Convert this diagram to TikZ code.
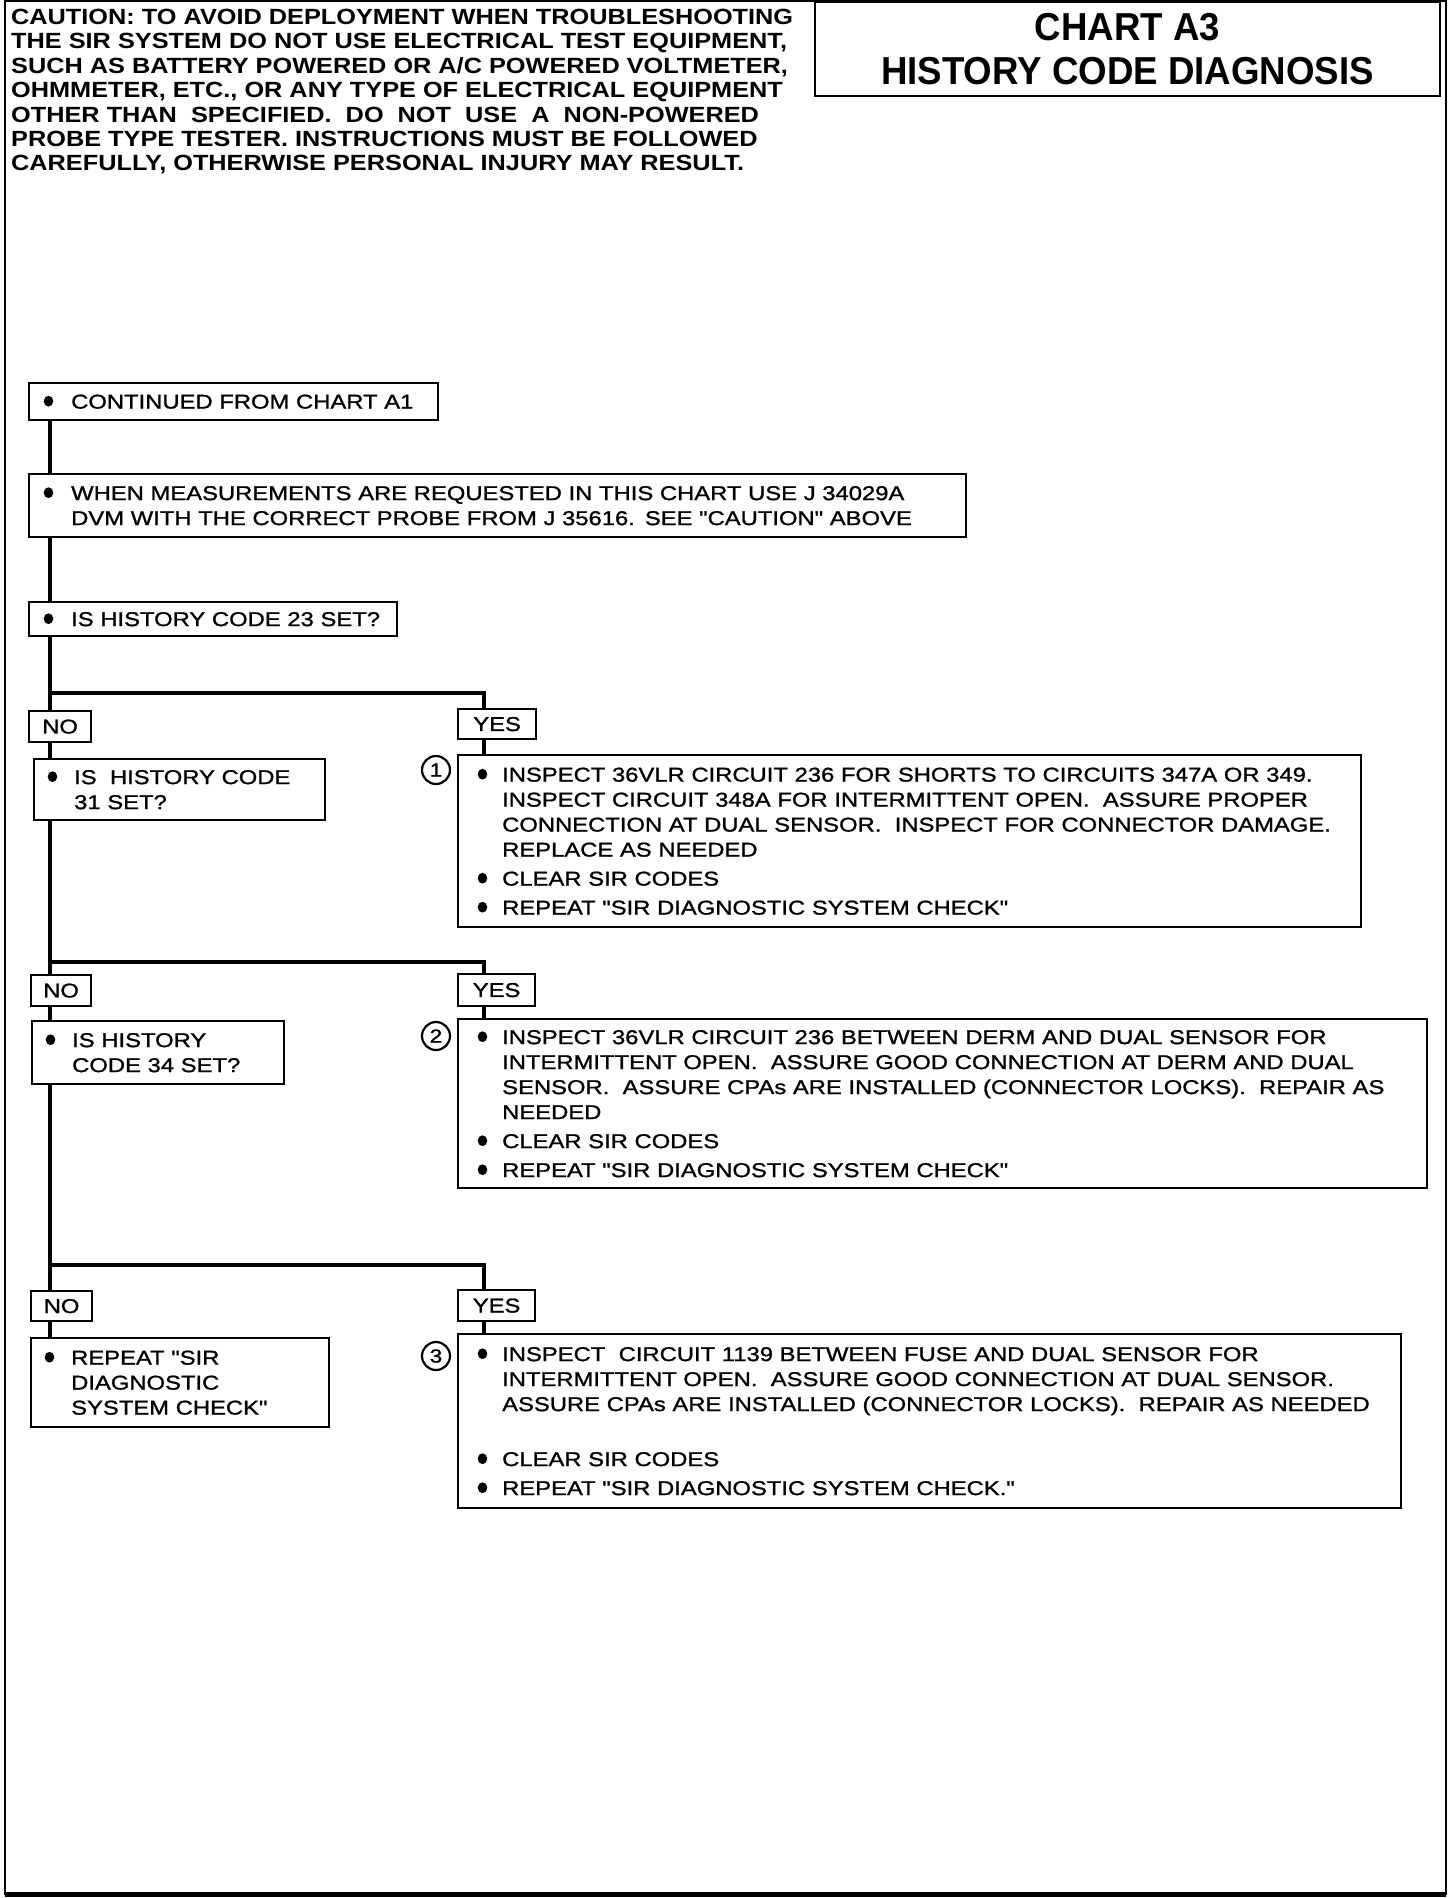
\documentclass[tikz,border=0pt]{standalone}
\usepackage{fontspec}
\setmainfont{Liberation Sans}
\newfontfamily\chartfont{Liberation Sans}[FakeStretch=1.19,FakeBold=1.2]
\newfontfamily\cautionfont{Liberation Sans}[FakeStretch=1.15]
\newfontfamily\titlefont{Liberation Sans}[FakeStretch=0.94]
\newcommand{\bul}[1][26pt]{\makebox[#1][l]{\hspace{1.5pt}\tikz[baseline=-7.4pt]\fill (0,0) circle[x radius=4.8pt,y radius=5.4pt];}}
\newcommand{\ind}[1][26pt]{\hspace*{#1}}

\begin{document}
\begin{tikzpicture}[x=1pt,y=-1pt,
  box/.style={draw,line width=2.4pt,anchor=north west,align=left,
    inner xsep=13pt,inner ysep=0pt,font=\chartfont\fontsize{20}{25}\selectfont},
  tag/.style={draw,line width=2.2pt,anchor=north west,inner sep=0pt,
    font=\chartfont\fontsize{20}{24}\selectfont},
  num/.style={circle,draw,line width=2.2pt,minimum size=28pt,inner sep=0pt,
    font=\chartfont\fontsize{19}{20}\selectfont},
  conn/.style={line width=3.2pt}]
\useasboundingbox (0,0) rectangle (1456,1898);

% ---- page frame, caution and title -------------------------------------
\draw[line width=2pt] (5,1) rectangle (1446,1894);
\draw[line width=5pt] (5,1894) -- (1446,1894);
\node[anchor=north west,inner sep=0pt,align=left,
  font=\cautionfont\bfseries\fontsize{22}{24.4}\selectfont] (caution) at (11,9)
  {CAUTION: TO AVOID DEPLOYMENT WHEN TROUBLESHOOTING\\
   THE SIR SYSTEM DO NOT USE ELECTRICAL TEST EQUIPMENT,\\
   SUCH AS BATTERY POWERED OR A/C POWERED VOLTMETER,\\
   OHMMETER, ETC., OR ANY TYPE OF ELECTRICAL EQUIPMENT\\
   OTHER THAN\ \ SPECIFIED.\ \ DO\ \ NOT\ \ USE\ \ A\ \ NON-POWERED\\
   PROBE TYPE TESTER. INSTRUCTIONS MUST BE FOLLOWED\\
   CAREFULLY, OTHERWISE PERSONAL INJURY MAY RESULT.};
\node[draw,line width=2.2pt,minimum width=625pt,minimum height=94pt,align=center,
  font=\titlefont\bfseries\fontsize{39}{44}\selectfont] (title) at (1127.5,49)
  {CHART A3\\HISTORY CODE DIAGNOSIS};

% ---- main column --------------------------------------------------------
\node[box,text width=383pt,minimum height=37pt] (cont) at (28,382)
  {\bul[29pt]CONTINUED FROM CHART A1};
\node[box,text width=911pt,minimum height=63pt] (meas) at (28,473)
  {\bul[29pt]WHEN MEASUREMENTS ARE REQUESTED IN THIS CHART USE J 34029A\\
   \ind[29pt]DVM WITH THE CORRECT PROBE FROM J 35616. SEE "CAUTION" ABOVE};
\node[box,text width=342pt,minimum height=34pt] (q23) at (28,601)
  {\bul[29pt]IS HISTORY CODE 23 SET?};

% ---- code 23 -------------------------------------------------------------
\node[tag,minimum width=62pt,minimum height=31pt] (no1) at (28,710) {NO};
\node[tag,minimum width=78pt,minimum height=30pt] (yes1) at (457,708) {YES};
\node[box,inner xsep=12pt,text width=267pt,minimum height=61pt] (q31) at (33,758)
  {\bul[28pt]IS\ \ HISTORY CODE\\\ind[28pt]31 SET?};
\node[box,inner xsep=18pt,text width=867pt,minimum height=172pt] (fix1) at (457,754)
  {\bul INSPECT 36VLR CIRCUIT 236 FOR SHORTS TO CIRCUITS 347A OR 349.\\
   \ind INSPECT CIRCUIT 348A FOR INTERMITTENT OPEN.\ \ ASSURE PROPER\\
   \ind CONNECTION AT DUAL SENSOR.\ \ INSPECT FOR CONNECTOR DAMAGE.\\
   \ind REPLACE AS NEEDED\\[4pt]
   \bul CLEAR SIR CODES\\[4pt]
   \bul REPEAT "SIR DIAGNOSTIC SYSTEM CHECK"};
\node[num] (c1) at (436,770) {1};

% ---- code 31 -------------------------------------------------------------
\node[tag,minimum width=60pt,minimum height=31pt] (no2) at (30,974) {NO};
\node[tag,minimum width=77pt,minimum height=32pt] (yes2) at (457,973) {YES};
\node[box,inner xsep=12pt,text width=228pt,minimum height=63pt] (q34) at (31,1020)
  {\bul[28pt]IS HISTORY\\\ind[28pt]CODE 34 SET?};
\node[box,inner xsep=18pt,text width=933pt,minimum height=169pt] (fix2) at (457,1018)
  {\bul INSPECT 36VLR CIRCUIT 236 BETWEEN DERM AND DUAL SENSOR FOR\\
   \ind INTERMITTENT OPEN.\ \ ASSURE GOOD CONNECTION AT DERM AND DUAL\\
   \ind SENSOR.\ \ ASSURE CPAs ARE INSTALLED (CONNECTOR LOCKS).\ \ REPAIR AS\\
   \ind NEEDED\\[4pt]
   \bul CLEAR SIR CODES\\[4pt]
   \bul REPEAT "SIR DIAGNOSTIC SYSTEM CHECK"};
\node[num] (c2) at (436,1036) {2};

% ---- code 34 -------------------------------------------------------------
\node[tag,minimum width=61pt,minimum height=30pt] (no3) at (30,1290) {NO};
\node[tag,minimum width=77pt,minimum height=31pt] (yes3) at (457,1289) {YES};
\node[box,inner xsep=12pt,text width=274pt,minimum height=89pt] (rep) at (30,1337)
  {\bul[28pt]REPEAT "SIR\\\ind[28pt]DIAGNOSTIC\\\ind[28pt]SYSTEM CHECK"};
\node[box,inner xsep=18pt,text width=907pt,minimum height=174pt] (fix3) at (457,1333)
  {\bul INSPECT\ \ CIRCUIT 1139 BETWEEN FUSE AND DUAL SENSOR FOR\\
   \ind INTERMITTENT OPEN.\ \ ASSURE GOOD CONNECTION AT DUAL SENSOR.\\
   \ind ASSURE CPAs ARE INSTALLED (CONNECTOR LOCKS).\ \ REPAIR AS NEEDED\\[30pt]
   \bul CLEAR SIR CODES\\[4pt]
   \bul REPEAT "SIR DIAGNOSTIC SYSTEM CHECK."};
\node[num] (c3) at (436,1356) {3};

% ---- branch points ---------------------------------------------------------
\coordinate (j1) at (50,693);  \coordinate (k1) at (484,693);
\coordinate (j2) at (50,962);  \coordinate (k2) at (484,962);
\coordinate (j3) at (50,1265); \coordinate (k3) at (484,1265);

% ---- the flow ------------------------------------------------------------
\draw[conn] (cont.south -| j1) -- (meas.north -| j1);
\draw[conn] (meas.south -| j1) -- (q23.north -| j1);
\draw[conn] (q23.south -| j1) -- (j1) -- (k1) -- (yes1.north -| k1);
\draw[conn] (j1) -- (no1.north -| j1);
\draw[conn] (no1.south -| j1) -- (q31.north -| j1);
\draw[conn] (yes1.south -| k1) -- (fix1.north -| k1);
\draw[conn] (q31.south -| j2) -- (j2) -- (k2) -- (yes2.north -| k2);
\draw[conn] (j2) -- (no2.north -| j2);
\draw[conn] (no2.south -| j2) -- (q34.north -| j2);
\draw[conn] (yes2.south -| k2) -- (fix2.north -| k2);
\draw[conn] (q34.south -| j3) -- (j3) -- (k3) -- (yes3.north -| k3);
\draw[conn] (j3) -- (no3.north -| j3);
\draw[conn] (no3.south -| j3) -- (rep.north -| j3);
\draw[conn] (yes3.south -| k3) -- (fix3.north -| k3);
\end{tikzpicture}
\end{document}
